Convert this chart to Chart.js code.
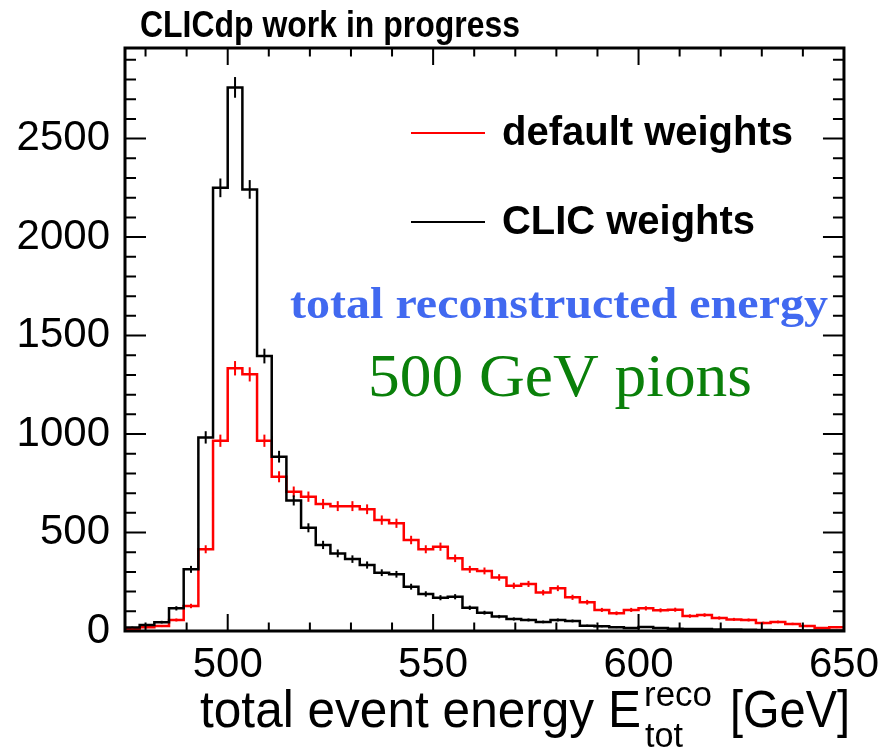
<!DOCTYPE html>
<html lang="en">
<head>
  <meta charset="UTF-8">
  <title>CLICdp - total event energy</title>
  <script src="https://cdn.jsdelivr.net/npm/chart.js"></script>
  <style>
    html, body { margin: 0; padding: 0; background: #fff; }
  </style>
</head>
<body>
  <canvas id="energyChart" width="888" height="751"></canvas>

  <script>
    // histogram binning (49 bins between 475 and 650 GeV)
    const xMin = 475;
    const xMax = 650;
    const nBins = 49;

    // bin contents
    const defaultWeights = [9, 19, 25, 56, 127, 415, 966, 1334, 1303, 966,
      783, 707, 682, 645, 634, 634, 618, 563, 547, 462,
      415, 428, 369, 313, 305, 272, 230, 239, 195, 217,
      171, 146, 107, 90, 107, 115, 105, 108, 76, 81,
      66, 59, 56, 41, 46, 36, 25, 15, 19];
    const clicWeights = [18, 30, 45, 115, 313, 983, 2250, 2760, 2242, 1396,
      885, 663, 524, 437, 394, 365, 335, 296, 288, 225,
      188, 169, 174, 118, 93, 73, 61, 56, 46, 56,
      51, 27, 24, 19, 15, 20, 15, 12, 10, 10,
      8, 7, 6, 5, 4, 4, 3, 3, 2];

    const xTickValues = [500, 550, 600, 650];
    const yTickValues = [0, 500, 1000, 1500, 2000, 2500];
    const yMax = 2960;

    const binWidth = (xMax - xMin) / nBins;

    // left bin edges + closing point, drawn with a stepped line
    function toSteps(counts) {
      const pts = counts.map((c, i) => ({ x: xMin + i * binWidth, y: c }));
      pts.push({ x: xMax, y: counts[counts.length - 1] });
      return pts;
    }

    // text squeezed/stretched to a given width, like the ROOT output
    function fitText(ctx, text, x, y, font, color, width) {
      ctx.save();
      ctx.font = font;
      ctx.fillStyle = color;
      ctx.textBaseline = 'alphabetic';
      ctx.textAlign = 'left';
      const w = ctx.measureText(text).width;
      ctx.translate(x, y);
      ctx.scale(width ? width / w : 1, 1);
      ctx.fillText(text, 0, 0);
      ctx.restore();
    }

    const rootStyle = {
      id: 'rootStyle',
      afterDatasetsDraw(chart) {
        const { ctx, chartArea, scales: { x, y } } = chart;
        ctx.save();
        ctx.beginPath();
        ctx.rect(chartArea.left, chartArea.top, chartArea.width, chartArea.height);
        ctx.clip();
        // poisson error bars at bin centres
        [defaultWeights, clicWeights].forEach((counts, k) => {
          ctx.strokeStyle = chart.data.datasets[k].borderColor;
          ctx.lineWidth = 2;
          counts.forEach((c, i) => {
            const cx = x.getPixelForValue(xMin + (i + 0.5) * binWidth);
            const e = Math.sqrt(c);
            ctx.beginPath();
            ctx.moveTo(cx, y.getPixelForValue(c - e));
            ctx.lineTo(cx, y.getPixelForValue(c + e));
            ctx.stroke();
          });
        });
        ctx.restore();
      },
      afterDraw(chart) {
        const { ctx, chartArea: a, scales: { x, y } } = chart;
        ctx.save();
        ctx.strokeStyle = '#000';

        // ticks on all four sides, pointing inwards
        ctx.lineWidth = 2;
        for (let v = 480; v < xMax; v += 10) {
          const px = x.getPixelForValue(v);
          const len = v % 50 === 0 ? 17 : 8.5;
          ctx.beginPath();
          ctx.moveTo(px, a.bottom); ctx.lineTo(px, a.bottom - len);
          ctx.moveTo(px, a.top); ctx.lineTo(px, a.top + len);
          ctx.stroke();
        }
        for (let v = 100; v < yMax; v += 100) {
          const py = y.getPixelForValue(v);
          const len = v % 500 === 0 ? 21 : 11;
          ctx.beginPath();
          ctx.moveTo(a.left, py); ctx.lineTo(a.left + len, py);
          ctx.moveTo(a.right, py); ctx.lineTo(a.right - len, py);
          ctx.stroke();
        }

        // frame
        ctx.lineWidth = 3;
        ctx.strokeRect(a.left, a.top, a.width, a.height);

        // legend
        const ds = chart.data.datasets;
        const legendRows = [133, 222];
        ds.forEach((d, i) => {
          ctx.strokeStyle = d.borderColor;
          ctx.lineWidth = 2;
          ctx.beginPath();
          ctx.moveTo(411, legendRows[i]);
          ctx.lineTo(485, legendRows[i]);
          ctx.stroke();
        });
        fitText(ctx, ds[0].label, 502, 145, 'bold 40px "Liberation Sans", Arial, sans-serif', '#000', 291);
        fitText(ctx, ds[1].label, 502, 234, 'bold 40px "Liberation Sans", Arial, sans-serif', '#000', 253);

        // labels
        fitText(ctx, 'CLICdp work in progress', 140, 37, 'bold 36px "Liberation Sans", Arial, sans-serif', '#000', 380);
        fitText(ctx, 'total reconstructed energy', 290, 318, 'bold 44px "Liberation Serif", "Times New Roman", serif', '#4169f0', 538);
        fitText(ctx, '500 GeV pions', 368, 396, '62px "Liberation Serif", "Times New Roman", serif', '#0a800a', 384);

        // x axis title with super/subscript
        const f = '"Liberation Sans", Arial, sans-serif';
        fitText(ctx, 'total event energy E', 200, 727, '52px ' + f, '#000', 441);
        fitText(ctx, 'reco', 644, 706, '35px ' + f, '#000', 68);
        fitText(ctx, 'tot', 645, 747, '35px ' + f, '#000', 38);
        fitText(ctx, '[GeV]', 730, 727, '52px ' + f, '#000', 120);
        ctx.restore();
      }
    };

    const tickFont = { family: '"Liberation Sans", Arial, sans-serif', size: 42 };

    new Chart(document.getElementById('energyChart'), {
      type: 'line',
      data: {
        datasets: [
          {
            label: 'default weights',
            data: toSteps(defaultWeights),
            borderColor: '#ff0000',
            borderWidth: 2.5,
            stepped: 'before',
            pointRadius: 0,
            fill: false,
            order: 1
          },
          {
            label: 'CLIC weights',
            data: toSteps(clicWeights),
            borderColor: '#000000',
            borderWidth: 2.5,
            stepped: 'before',
            pointRadius: 0,
            fill: false,
            order: 0
          }
        ]
      },
      options: {
        responsive: false,
        animation: false,
        layout: { padding: { top: 48, right: 38, left: 0, bottom: 0 } },
        plugins: {
          legend: { display: false },
          tooltip: { enabled: false }
        },
        scales: {
          x: {
            type: 'linear',
            min: xMin,
            max: xMax,
            grid: { display: false, drawTicks: false },
            border: { display: false },
            ticks: { font: tickFont, color: '#000', padding: 9, maxRotation: 0, autoSkip: false,
              callback: v => String(v) },
            afterBuildTicks: s => { s.ticks = xTickValues.map(v => ({ value: v })); },
            afterFit: s => { s.height = 120; }
          },
          y: {
            min: 0,
            max: yMax,
            grid: { display: false, drawTicks: false },
            border: { display: false },
            ticks: { font: tickFont, color: '#000', padding: 15, callback: v => String(v) },
            afterBuildTicks: s => { s.ticks = yTickValues.map(v => ({ value: v })); },
            afterFit: s => { s.width = 125; }
          }
        }
      },
      plugins: [rootStyle]
    });
  </script>
</body>
</html>
